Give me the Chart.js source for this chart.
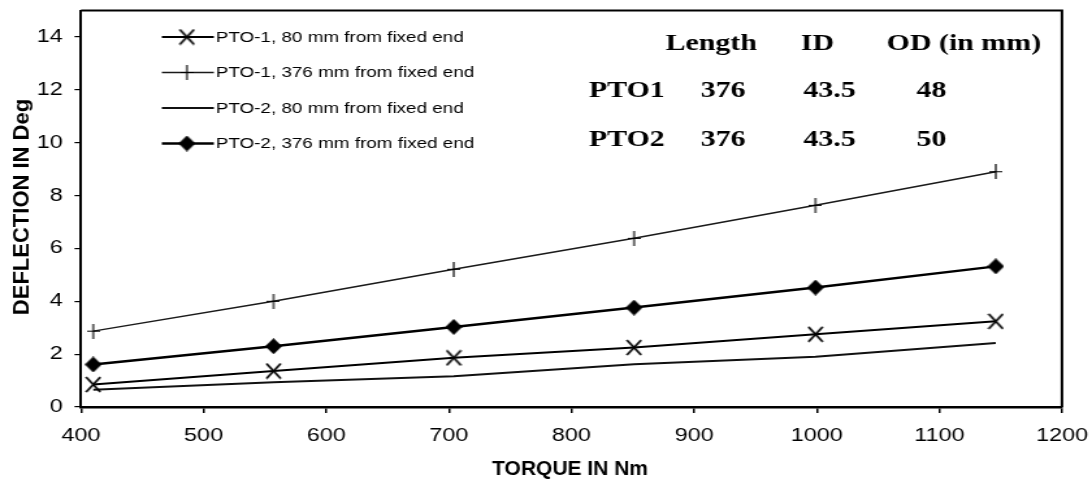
<!DOCTYPE html>
<html>
<head>
<meta charset="utf-8">
<title>Deflection vs Torque</title>
<script src="https://cdn.jsdelivr.net/npm/chart.js@4.4.1/dist/chart.umd.min.js"></script>
<style>
    html, body { margin: 0; padding: 0; background: #fff; overflow: hidden; }
    /* the scanned original is stretched sideways, so the canvas is too */
    #chart { display: block; transform: scaleX(1.3); transform-origin: 0 0; }
</style>
</head>
<body>
<canvas id="chart" width="840" height="486"></canvas>
<script>
// data
const torque = [410, 557, 704, 851, 999, 1146];
const pto1At80 = [0.85, 1.36, 1.86, 2.25, 2.75, 3.24];
const pto1At376 = [2.87, 4.0, 5.21, 6.38, 7.63, 8.9];
const pto2At80 = [0.65, 0.94, 1.16, 1.62, 1.9, 2.42];
const pto2At376 = [1.61, 2.3, 3.03, 3.76, 4.52, 5.32];

const seriesNames = [
    'PTO-1, 80 mm from fixed end',
    'PTO-1, 376 mm from fixed end',
    'PTO-2, 80 mm from fixed end',
    'PTO-2, 376 mm from fixed end'
];

const xTicks = [400, 500, 600, 700, 800, 900, 1000, 1100, 1200];
const yTicks = [0, 2, 4, 6, 8, 10, 12, 14];

const tableHead = ['Length', 'ID', 'OD (in mm)'];
const tableRows = [
    ['PTO1', '376', '43.5', '48'],
    ['PTO2', '376', '43.5', '50']
];

const S = 1.3; // sideways stretch, undone for the axis titles and markers

function makeMarker(w, h, draw) {
    const c = document.createElement('canvas');
    c.width = w;
    c.height = h;
    const ctx = c.getContext('2d');
    ctx.strokeStyle = '#000';
    ctx.fillStyle = '#000';
    draw(ctx, w, h);
    return c;
}

const xMark = makeMarker(13, 17, function (ctx, w, h) {
    ctx.lineWidth = 1.8;
    ctx.beginPath();
    ctx.moveTo(1, 1); ctx.lineTo(w - 1, h - 1);
    ctx.moveTo(w - 1, 1); ctx.lineTo(1, h - 1);
    ctx.stroke();
});
const plusMark = makeMarker(10, 15, function (ctx, w, h) {
    ctx.lineWidth = 1.2;
    ctx.beginPath();
    ctx.moveTo(w / 2, 0); ctx.lineTo(w / 2, h);
    ctx.moveTo(0, h / 2); ctx.lineTo(w, h / 2);
    ctx.stroke();
});
const diamondMark = makeMarker(13, 16, function (ctx, w, h) {
    ctx.beginPath();
    ctx.moveTo(w / 2, 0); ctx.lineTo(w, h / 2);
    ctx.lineTo(w / 2, h); ctx.lineTo(0, h / 2);
    ctx.closePath();
    ctx.fill();
});

function points(values) {
    return torque.map((t, i) => ({ x: t, y: values[i] }));
}

// no extra room round the plot for the end tick labels
function noOverhang(s) {
    s.paddingTop = 0;
    s.paddingBottom = 0;
    s.paddingLeft = 0;
    s.paddingRight = 0;
}

// plot frame, legend, spec table and axis titles
const extras = {
    id: 'extras',
    afterDraw(chart) {
        const ctx = chart.ctx;
        const a = chart.chartArea;

        ctx.save();
        ctx.strokeStyle = '#000';
        ctx.lineWidth = 2;
        ctx.beginPath();
        ctx.moveTo(a.left, a.top);
        ctx.lineTo(a.right, a.top);
        ctx.lineTo(a.right, a.bottom);
        ctx.stroke();

        // legend
        const rowY = [37, 72.5, 108, 143.5];
        chart.data.datasets.forEach(function (ds, i) {
            const y = rowY[i];
            ctx.strokeStyle = ds.borderColor;
            ctx.lineWidth = ds.borderWidth;
            ctx.beginPath();
            ctx.moveTo(124.5, y);
            ctx.lineTo(164.5, y);
            ctx.stroke();
            if (ds.pointRadius > 0) {
                const m = ds.pointStyle;
                ctx.drawImage(m, 143.8 - m.width / 2, y - m.height / 2);
            }
            ctx.fillStyle = '#000';
            ctx.font = '14.5px "Liberation Sans", Arial, sans-serif';
            ctx.textAlign = 'left';
            ctx.textBaseline = 'middle';
            ctx.fillText(ds.label, 166, y + 0.5);
        });

        // spec table
        ctx.fillStyle = '#000';
        ctx.font = 'bold 23px "Liberation Serif", "Times New Roman", serif';
        ctx.textAlign = 'left';
        ctx.textBaseline = 'alphabetic';
        const headX = [512, 616, 682];
        tableHead.forEach((t, i) => ctx.fillText(t, headX[i], 50));
        const colX = [453, 539, 618, 705];
        const rowBase = [97, 146];
        tableRows.forEach(function (row, r) {
            row.forEach((t, i) => ctx.fillText(t, colX[i], rowBase[r]));
        });

        // axis titles, drawn without the sideways stretch
        ctx.font = 'bold 21px "Liberation Sans", Arial, sans-serif';
        ctx.textAlign = 'center';
        ctx.textBaseline = 'middle';
        ctx.save();
        ctx.translate(438.5, 469);
        ctx.scale(1 / S, 1);
        ctx.fillText('TORQUE IN Nm', 0, 0);
        ctx.restore();

        ctx.font = 'bold 22px "Liberation Sans", Arial, sans-serif';
        ctx.save();
        ctx.translate(17.7, 207);
        ctx.scale(1 / S, 1);
        ctx.rotate(-Math.PI / 2);
        ctx.fillText('DEFLECTION IN Deg', 0, 0);
        ctx.restore();

        ctx.restore();
    }
};

const tickFont = { family: '"Liberation Sans", Arial, sans-serif', size: 18 };

new Chart(document.getElementById('chart'), {
    type: 'line',
    data: {
        datasets: [{
            label: seriesNames[0],
            data: points(pto1At80),
            borderColor: '#000',
            borderWidth: 2,
            pointStyle: xMark,
            pointRadius: 6
        }, {
            label: seriesNames[1],
            data: points(pto1At376),
            borderColor: '#1a1a1a',
            borderWidth: 1.5,
            pointStyle: plusMark,
            pointRadius: 6
        }, {
            label: seriesNames[2],
            data: points(pto2At80),
            borderColor: '#111',
            borderWidth: 2,
            pointRadius: 0
        }, {
            label: seriesNames[3],
            data: points(pto2At376),
            borderColor: '#000',
            borderWidth: 2.5,
            pointStyle: diamondMark,
            pointRadius: 6
        }]
    },
    options: {
        responsive: false,
        devicePixelRatio: 1,
        animation: false,
        events: [],
        layout: { autoPadding: false, padding: { top: 10.5, right: 23.1, left: 0, bottom: 0 } },
        plugins: {
            legend: { display: false },
            tooltip: { enabled: false }
        },
        scales: {
            x: {
                type: 'linear',
                min: 400,
                max: 1200,
                afterBuildTicks: s => { s.ticks = xTicks.map(v => ({ value: v })); },
                afterFit: s => { s.height = 79; noOverhang(s); },
                ticks: {
                    autoSkip: false,
                    maxRotation: 0,
                    padding: 12,
                    color: '#000',
                    font: tickFont,
                    callback: v => String(v)
                },
                grid: { drawOnChartArea: false, drawTicks: true, tickLength: 6, color: '#000', lineWidth: 1.5 },
                border: { display: true, color: '#000', width: 2.5 }
            },
            y: {
                min: 0,
                max: 15,
                afterBuildTicks: s => { s.ticks = yTicks.map(v => ({ value: v })); },
                afterFit: s => { s.width = 62.3; noOverhang(s); },
                ticks: {
                    padding: 9,
                    color: '#000',
                    font: tickFont,
                    callback: v => String(v)
                },
                grid: { drawOnChartArea: false, drawTicks: true, tickLength: 5, color: '#000', lineWidth: 1.2 },
                border: { display: true, color: '#000', width: 2 }
            }
        }
    },
    plugins: [extras]
});
</script>
</body>
</html>
